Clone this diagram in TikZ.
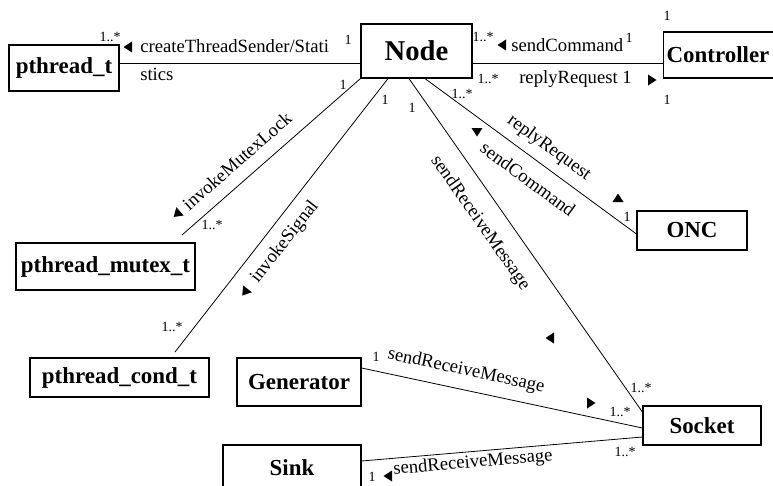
\documentclass[tikz,border=0pt]{standalone}
\usepackage{fontspec}
\setmainfont{Liberation Serif}
\begin{document}
\begin{tikzpicture}[x=0.75pt,y=-0.75pt,
  box/.style={draw, line width=0.9pt, inner sep=0pt, font=\bfseries\fontsize{17.2}{18}\selectfont},
  assoc/.style={line width=0.6pt},
  lbl/.style={font=\fontsize{14}{15}\selectfont, inner sep=0pt},
  mult/.style={font=\fontsize{10.5}{12}\selectfont, inner sep=0pt},
  tri/.pic={\fill (-4.5,0) -- (4,-5.5) -- (4,5.5) -- cycle;},
]
\clip (0,0) rectangle (773,485);
\fill[white] (0,0) rectangle (773,485);

% classes
\node[box, minimum width=82.5pt, minimum height=34.5pt] (pthread) at (64,68) {pthread\_t};
\node[box, minimum width=83.25pt, minimum height=40.5pt, font=\bfseries\fontsize{21.5}{23}\selectfont] (Node) at (416.5,51) {Node};
\node[box, anchor=west, minimum height=34.5pt, inner xsep=2.25pt, text width=97.5pt, align=left] (Controller) at (663,55) {Controller};
\node[box, minimum width=82.5pt, minimum height=29.25pt] (ONC) at (692,230.5) {ONC};
\node[box, minimum width=134.25pt, minimum height=35.25pt] (mutex) at (105.5,266.5) {pthread\_mutex\_t};
\node[box, minimum width=134.25pt, minimum height=29.25pt] (cond) at (119.5,377.5) {pthread\_cond\_t};
\node[box, minimum width=93pt, minimum height=36pt] (Generator) at (299,382) {Generator};
\node[box, minimum width=88.5pt, minimum height=29.25pt] (Socket) at (702,425.5) {Socket};
\node[box, minimum width=103.5pt, minimum height=33.75pt] (Sink) at (292,467.5) {Sink};

% free ends of the two pthread associations
\coordinate (mutexEnd) at (182,235);
\coordinate (condEnd) at (175,352);

% associations
\draw[assoc] (pthread.east |- 0,63) -- (Node.west |- 0,63);
\draw[assoc] (Node.east |- 0,63) -- (Controller.west |- 0,63);
\draw[assoc] (Node.south west) -- (mutexEnd);
\draw[assoc] (388,0 |- Node.south) -- (condEnd);
\draw[assoc] (409,0 |- Node.south) -- (Socket.west |- 0,412);
\draw[assoc] (425,0 |- Node.south) -- (ONC.west |- 0,234);
\draw[assoc] (Generator.east |- 0,368) -- (Socket.west |- 0,428);
\draw[assoc] (Sink.east |- 0,461) -- (Socket.west |- 0,437);

% pthread_t -- Node
\node[mult] (m1) at (110,37) {1..*};
\pic at (128,47) {tri};
\node[lbl, anchor=base west] (cts1) at (140,53) {createThreadSender/Stati};
\node[lbl, anchor=base west] (cts2) at (140,80) {stics};
\node[mult] (m2) at (348,40) {1};

% Node -- Controller
\node[mult] (m3) at (483,37) {1..*};
\pic at (502,45) {tri};
\node[lbl, anchor=base west] (sc) at (511,52) {sendCommand};
\node[mult] (m4) at (629,38) {1};
\node[mult] (m5) at (488,79) {1..*};
\node[lbl, anchor=base west] (rr) at (519,84) {replyRequest 1};
\pic[rotate=180] at (652,80) {tri};
\node[mult] (m6) at (667,16) {1};
\node[mult] (m7) at (667,100) {1};

% Node -- pthread_mutex_t
\node[mult] (m8) at (343,85) {1};
\pic[rotate=41.3] at (177,214) {tri};
\node[lbl, rotate=41.3] (iml) at (237,161) {invokeMutexLock};
\node[mult] (m9) at (212,225) {1..*};

% Node -- pthread_cond_t
\node[mult] (m10) at (385,100) {1};
\pic[rotate=52] at (245,292) {tri};
\node[lbl, rotate=52] (isg) at (285,242) {invokeSignal};
\node[mult] (m11) at (172,327) {1..*};

% Node -- Socket
\node[mult] (m12) at (412,108) {1};
\node[lbl, rotate=-55] (srm1) at (480,223) {sendReceiveMessage};
\pic at (550,338) {tri};
\node[mult] (m13) at (641,388) {1..*};

% Node -- ONC
\node[mult] (m14) at (462,94) {1..*};
\node[lbl, rotate=-36.3] (rr2) at (549,148) {replyRequest};
\pic[rotate=90] at (477,132) {tri};
\node[lbl, rotate=-36.3] (sc2) at (528,179) {sendCommand};
\pic[rotate=-90] at (618,198) {tri};
\node[mult] (m15) at (627,217) {1};

% Generator -- Socket
\node[mult] (m16) at (376,357) {1};
\node[lbl, rotate=-12] (srm2) at (466,371) {sendReceiveMessage};
\pic[rotate=180] at (591,403) {tri};
\node[mult] (m17) at (620,412) {1..*};

% Sink -- Socket
\node[mult] (m18) at (372,477) {1};
\pic at (388,476) {tri};
\node[lbl, rotate=5] (srm3) at (473,463) {sendReceiveMessage};
\node[mult] (m19) at (625,452) {1..*};
\end{tikzpicture}
\end{document}
